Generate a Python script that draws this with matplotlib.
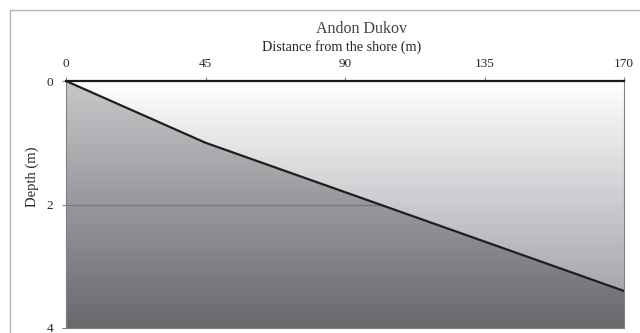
import numpy as np
import matplotlib
matplotlib.use("Agg")
import matplotlib.pyplot as plt
from matplotlib.colors import LinearSegmentedColormap
from matplotlib.patches import Rectangle

# Data
title = "Andon Dukov"
x_label = "Distance from the shore (m)"
y_label = "Depth (m)"
distance_labels = ["0", "45", "90", "135", "170"]
depth = [0.0, 1.0, 1.8, 2.6, 3.4]
y_ticks = [0, 2, 4]

plt.rcParams['font.family'] = ['Liberation Serif', 'DejaVu Serif']

fig = plt.figure(figsize=(6.4, 3.33), dpi=100)
fig.patch.set_facecolor('white')
ax = fig.add_axes([66/640, 1-328/333, (624-66)/640, (328-81)/333])

xpos = np.arange(len(distance_labels))
xmax = xpos[-1]
ymax = 4

# Background gradient of plot area
bg_cmap = LinearSegmentedColormap.from_list('bg', [(200/255, 200/255, 203/255), (104/255, 105/255, 109/255)])
grad = np.linspace(0, 1, 256).reshape(-1, 1)
ax.imshow(grad, aspect='auto', cmap=bg_cmap, extent=[0, xmax, ymax, 0], zorder=0, interpolation='bicubic')

# Gridline at depth 2
ax.axhline(2, color=(0.47, 0.47, 0.49), lw=1.0, zorder=1)

# Upper area (from surface to depth) with its own gradient
area = ax.fill_between(xpos, 0, depth, facecolor='none', edgecolor='none', zorder=2)
top_cmap = LinearSegmentedColormap.from_list('top', [(1, 1, 1), (165/255, 167/255, 172/255)])
img = ax.imshow(grad, aspect='auto', cmap=top_cmap, extent=[0, xmax, max(depth), 0], zorder=2, interpolation='bicubic')
clip = area.get_paths()[0]
img.set_clip_path(clip, transform=ax.transData)

ax.plot(xpos, depth, color=(0.12, 0.12, 0.12), lw=1.6, zorder=3)

ax.set_xlim(0, xmax)
ax.set_ylim(ymax, 0)
ax.xaxis.tick_top()
ax.set_xticks(xpos)
ax.set_xticklabels(distance_labels)
ax.set_yticks(y_ticks)
ax.tick_params(axis='x', length=3, pad=5, labelsize=9.5, color=(0.5, 0.5, 0.5), labelcolor=(0.15, 0.15, 0.15))
ax.tick_params(axis='y', length=3, pad=6, labelsize=9.5, color=(0.5, 0.5, 0.5), labelcolor=(0.15, 0.15, 0.15))

for s in ['left', 'right', 'bottom']:
    ax.spines[s].set_color((0.5, 0.5, 0.5))
    ax.spines[s].set_linewidth(0.8)
ax.spines['top'].set_color((0.1, 0.1, 0.1))
ax.spines['top'].set_linewidth(1.6)
ax.spines['top'].set_zorder(4)

fig.text(362/640, 1-29/333, title, ha='center', va='center', fontsize=11.5, color=(0.25, 0.25, 0.25))
fig.text(342/640, 1-47/333, x_label, ha='center', va='center', fontsize=10.2, color=(0.15, 0.15, 0.15))
fig.text(32/640, 1-177/333, y_label, ha='center', va='center', rotation=90, fontsize=10.5, color=(0.15, 0.15, 0.15))

# Chart border
fig.patches.append(Rectangle((10/640, -0.1), 1.0, 1.1 - 10/333, transform=fig.transFigure,
                             fill=False, edgecolor=(0.7, 0.7, 0.7), lw=1.0))

fig.savefig("out.png", dpi=100)
